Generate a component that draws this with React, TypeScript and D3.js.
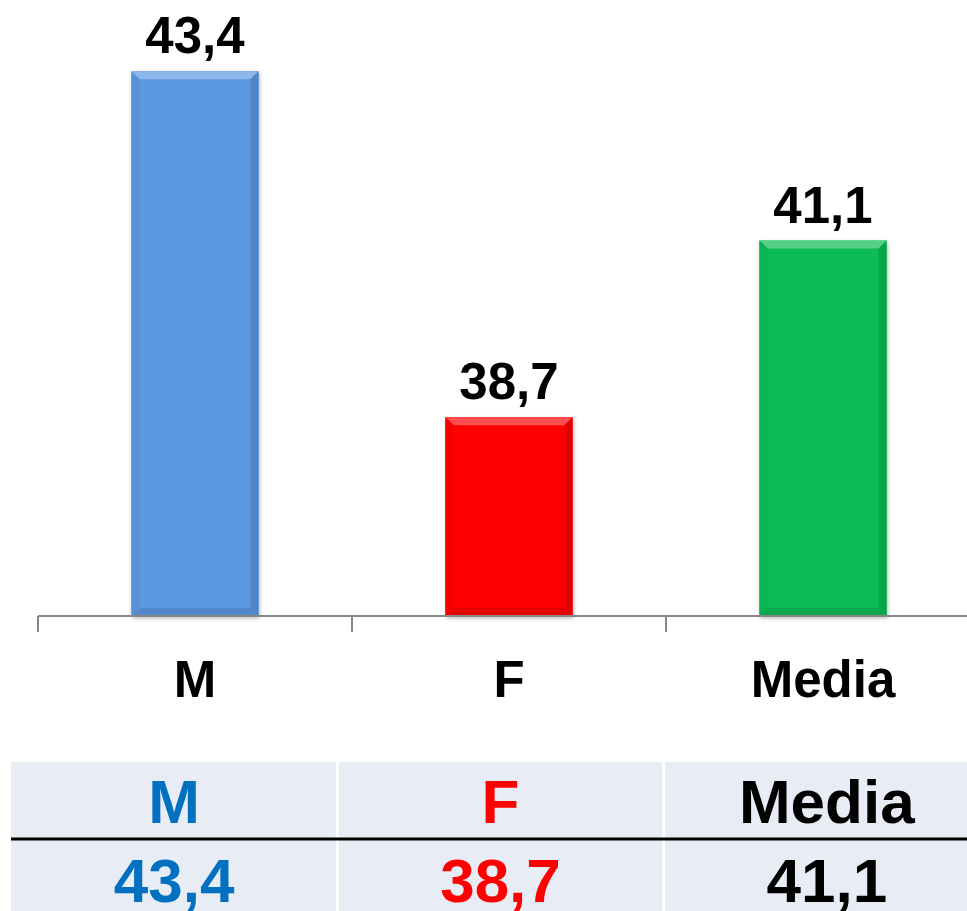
import { useEffect, useRef } from 'react';
import * as d3 from 'd3';

const categories = ['M', 'F', 'Media'];
const values = [43.4, 38.7, 41.1];
const barColors = ['#5b98df', '#ff0000', '#0abb55'];
const tableColors = ['#0070c0', '#ff0000', '#000000'];

const fmt = (v: number) => v.toFixed(1).replace('.', ',');

export default function App() {
  const svgRef = useRef<SVGSVGElement | null>(null);

  useEffect(() => {
    const svg = svgRef.current;
    if (!svg) return;

    const width = 967;
    const height = 911;
    const baseY = 616;
    const font = 'Liberation Sans, Arial, sans-serif';

    const x = d3
      .scaleBand<string>()
      .domain(categories)
      .range([38, 980])
      .paddingInner(0.595)
      .paddingOuter(0.2975);

    const y = d3.scaleLinear().domain([36, 44]).range([baseY, 27]);

    const root = d3.select(svg);
    root.attr('viewBox', `0 0 ${width} ${height}`);
    root.selectAll('*').remove();

    const defs = root.append('defs');
    const shadow = defs.append('filter').attr('id', 'shadow').attr('x', '-20%').attr('y', '-5%').attr('width', '140%').attr('height', '115%');
    shadow.append('feDropShadow').attr('dx', 1).attr('dy', 2).attr('stdDeviation', 2).attr('flood-color', '#000').attr('flood-opacity', 0.3);

    // bars with bevelled edges
    const bw = x.bandwidth();
    const bev = 8;
    categories.forEach((c, i) => {
      const x0 = x(c)!;
      const x1 = x0 + bw;
      const y0 = y(values[i]);
      const y1 = baseY;
      const col = d3.color(barColors[i])!;
      const g = root.append('g');
      g.append('rect')
        .attr('x', x0)
        .attr('y', y0)
        .attr('width', bw)
        .attr('height', y1 - y0)
        .attr('fill', barColors[i])
        .attr('filter', 'url(#shadow)');
      const poly = (pts: [number, number][], fill: string) =>
        g.append('polygon').attr('points', pts.map((p) => p.join(',')).join(' ')).attr('fill', fill);
      const top = d3.interpolateRgb(barColors[i], '#ffffff')(0.3);
      poly([[x0, y0], [x1, y0], [x1 - bev, y0 + bev], [x0 + bev, y0 + bev]], top);
      poly([[x0, y0], [x0 + bev, y0 + bev], [x0 + bev, y1 - bev], [x0, y1]], col.darker(0.12).formatHex());
      poly([[x1, y0], [x1 - bev, y0 + bev], [x1 - bev, y1 - bev], [x1, y1]], col.darker(0.35).formatHex());
      poly([[x0, y1], [x0 + bev, y1 - bev], [x1 - bev, y1 - bev], [x1, y1]], col.darker(0.3).formatHex());

      root
        .append('text')
        .attr('x', x0 + bw / 2)
        .attr('y', y0 - 18)
        .attr('text-anchor', 'middle')
        .attr('font-family', font)
        .attr('font-weight', 'bold')
        .attr('font-size', 51)
        .attr('fill', '#000')
        .text(fmt(values[i]));
    });

    // x axis
    const axis = root.append('g').attr('transform', `translate(0,${baseY})`);
    axis
      .append('line')
      .attr('x1', 38)
      .attr('x2', 980)
      .attr('stroke', '#878787')
      .attr('stroke-width', 2);
    const tickXs = categories.map((c) => x(c)! - (x.step() * x.paddingInner()) / 2);
    tickXs.push(980);
    axis
      .selectAll('line.tick')
      .data(tickXs)
      .join('line')
      .attr('class', 'tick')
      .attr('x1', (d) => d)
      .attr('x2', (d) => d)
      .attr('y1', 0)
      .attr('y2', 16)
      .attr('stroke', '#878787')
      .attr('stroke-width', 2);
    axis
      .selectAll('text')
      .data(categories)
      .join('text')
      .attr('x', (d) => x(d)! + bw / 2)
      .attr('y', 81)
      .attr('text-anchor', 'middle')
      .attr('font-family', font)
      .attr('font-weight', 'bold')
      .attr('font-size', 51)
      .attr('fill', '#000')
      .text((d) => d);

    // data table
    const tx = d3.scaleBand<string>().domain(categories).range([11, 990]);
    const table = root.append('g');
    table
      .append('rect')
      .attr('x', 11)
      .attr('y', 762)
      .attr('width', width - 11)
      .attr('height', height - 762)
      .attr('fill', '#e8ecf4');
    categories.slice(1).forEach((c) => {
      table
        .append('line')
        .attr('x1', tx(c)!)
        .attr('x2', tx(c)!)
        .attr('y1', 762)
        .attr('y2', height)
        .attr('stroke', '#ffffff')
        .attr('stroke-width', 3);
    });
    table
      .append('line')
      .attr('x1', 11)
      .attr('x2', width)
      .attr('y1', 839)
      .attr('y2', 839)
      .attr('stroke', '#000')
      .attr('stroke-width', 3);
    categories.forEach((c, i) => {
      const cx = tx(c)! + tx.bandwidth() / 2;
      table
        .append('text')
        .attr('x', cx)
        .attr('y', 823)
        .attr('text-anchor', 'middle')
        .attr('font-family', font)
        .attr('font-weight', 'bold')
        .attr('font-size', 62)
        .attr('fill', tableColors[i])
        .text(c);
      table
        .append('text')
        .attr('x', cx)
        .attr('y', 902)
        .attr('text-anchor', 'middle')
        .attr('font-family', font)
        .attr('font-weight', 'bold')
        .attr('font-size', 62)
        .attr('fill', tableColors[i])
        .text(fmt(values[i]));
    });
  }, []);

  return (
    <svg
      ref={svgRef}
      width={967}
      height={911}
      style={{ position: 'absolute', left: 0, top: 0, display: 'block' }}
    />
  );
}
